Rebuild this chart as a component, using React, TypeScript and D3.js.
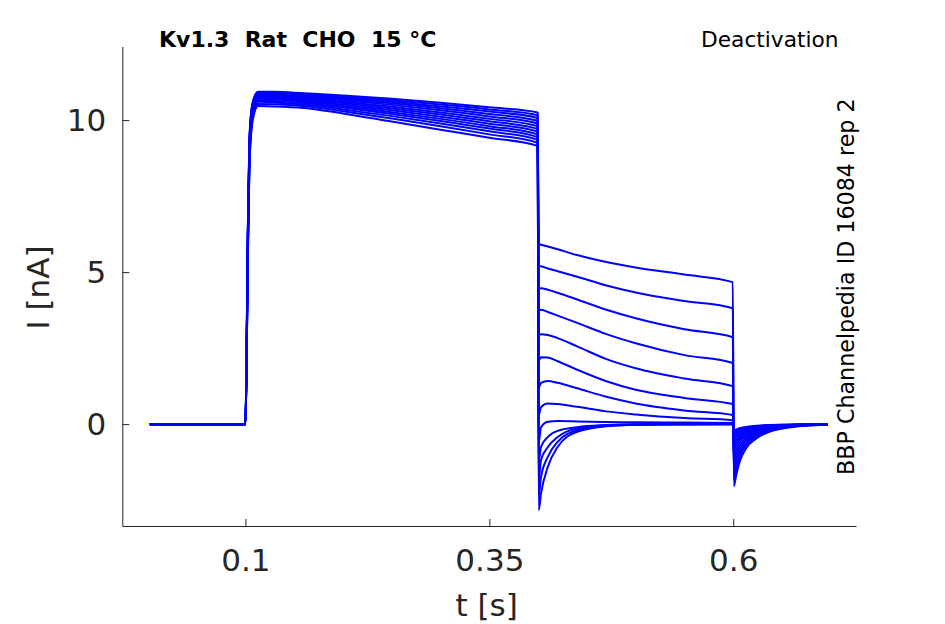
import * as d3 from "d3";
import React, { useEffect, useRef } from "react";

// time points (s) for each phase of the protocol
const holdT = [0.002, 0.1];
const actT = [0.1012, 0.1025, 0.104, 0.106, 0.109, 0.113, 0.13, 0.16, 0.2, 0.25, 0.3, 0.35, 0.3995];
const tailT = [0.4006, 0.403, 0.41, 0.42, 0.44, 0.47, 0.5, 0.55, 0.5995];
const deactT = [0.6006, 0.603, 0.6065, 0.613, 0.624, 0.637, 0.651, 0.67, 0.697];

// current (nA), one row per sweep
const actI = [
  [2.5, 6.5, 9.3, 10.3, 10.75, 10.93, 10.93, 10.88, 10.81, 10.7, 10.57, 10.42, 10.25],
  [2.5, 6.4, 9.2, 10.25, 10.72, 10.9, 10.9, 10.85, 10.77, 10.65, 10.51, 10.35, 10.16],
  [2.4, 6.4, 9.2, 10.2, 10.7, 10.88, 10.87, 10.82, 10.73, 10.6, 10.45, 10.28, 10.07],
  [2.4, 6.3, 9.1, 10.15, 10.66, 10.85, 10.84, 10.79, 10.69, 10.55, 10.39, 10.2, 9.98],
  [2.3, 6.2, 9.0, 10.1, 10.63, 10.83, 10.82, 10.76, 10.65, 10.5, 10.32, 10.12, 9.89],
  [2.3, 6.2, 9.0, 10.05, 10.6, 10.8, 10.79, 10.72, 10.6, 10.44, 10.25, 10.04, 9.8],
  [2.2, 6.1, 8.9, 10.0, 10.56, 10.78, 10.76, 10.69, 10.56, 10.38, 10.18, 9.96, 9.71],
  [2.2, 6.0, 8.8, 9.95, 10.52, 10.74, 10.72, 10.65, 10.51, 10.32, 10.11, 9.88, 9.62],
  [2.1, 5.9, 8.7, 9.9, 10.48, 10.7, 10.68, 10.61, 10.46, 10.26, 10.04, 9.8, 9.53],
  [2.1, 5.8, 8.6, 9.85, 10.43, 10.65, 10.63, 10.56, 10.41, 10.2, 9.97, 9.72, 9.44],
  [2.0, 5.7, 8.5, 9.8, 10.38, 10.6, 10.58, 10.51, 10.35, 10.13, 9.89, 9.63, 9.35],
  [2.0, 5.6, 8.4, 9.7, 10.3, 10.53, 10.52, 10.46, 10.29, 10.05, 9.8, 9.53, 9.25],
  [1.9, 5.5, 8.3, 9.6, 10.22, 10.46, 10.45, 10.4, 10.22, 9.95, 9.68, 9.42, 9.15],
];

const tailI = [
  [5.92, 5.9, 5.84, 5.75, 5.56, 5.33, 5.15, 4.92, 4.67],
  [5.2, 5.19, 5.12, 5.03, 4.85, 4.56, 4.33, 4.05, 3.81],
  [4.47, 4.47, 4.42, 4.32, 4.1, 3.76, 3.48, 3.12, 2.86],
  [3.74, 3.76, 3.69, 3.57, 3.33, 2.96, 2.66, 2.27, 2.01],
  [2.93, 2.96, 2.93, 2.83, 2.56, 2.14, 1.84, 1.5, 1.25],
  [2.1, 2.2, 2.19, 2.07, 1.79, 1.41, 1.13, 0.86, 0.66],
  [1.2, 1.36, 1.42, 1.36, 1.18, 0.9, 0.68, 0.45, 0.3],
  [0.3, 0.56, 0.68, 0.66, 0.57, 0.42, 0.32, 0.2, 0.13],
  [-0.6, -0.1, 0.08, 0.1, 0.09, 0.07, 0.06, 0.05, 0.04],
  [-1.2, -0.75, -0.42, -0.22, -0.1, -0.03, 0.0, 0.01, 0.01],
  [-1.8, -1.18, -0.75, -0.42, -0.14, -0.04, -0.01, 0.0, 0.0],
  [-2.35, -1.73, -1.07, -0.58, -0.2, -0.05, -0.02, 0.0, 0.0],
  [-2.83, -2.28, -1.4, -0.75, -0.25, -0.07, -0.02, -0.01, 0.0],
];

const deactI = [
  [-2.04, -1.68, -1.24, -0.8, -0.46, -0.25, -0.14, -0.06, -0.02],
  [-1.8, -1.48, -1.09, -0.7, -0.4, -0.22, -0.12, -0.05, -0.02],
  [-1.58, -1.3, -0.96, -0.62, -0.35, -0.19, -0.1, -0.04, -0.01],
  [-1.38, -1.13, -0.84, -0.54, -0.31, -0.17, -0.09, -0.04, -0.01],
  [-1.2, -0.98, -0.73, -0.47, -0.27, -0.15, -0.08, -0.03, -0.01],
  [-1.02, -0.84, -0.62, -0.4, -0.23, -0.12, -0.07, -0.03, -0.01],
  [-0.86, -0.7, -0.52, -0.34, -0.19, -0.1, -0.06, -0.02, -0.01],
  [-0.72, -0.59, -0.44, -0.28, -0.16, -0.09, -0.05, -0.02, 0.0],
  [-0.6, -0.49, -0.36, -0.23, -0.13, -0.07, -0.04, -0.02, 0.0],
  [-0.48, -0.39, -0.29, -0.19, -0.11, -0.06, -0.03, -0.01, 0.0],
  [-0.38, -0.31, -0.23, -0.15, -0.09, -0.05, -0.03, -0.01, 0.0],
  [-0.3, -0.25, -0.18, -0.12, -0.07, -0.04, -0.02, -0.01, 0.0],
  [-0.22, -0.18, -0.13, -0.09, -0.05, -0.03, -0.02, -0.01, 0.0],
];

const xTicks = [0.1, 0.35, 0.6];
const yTicks = [0, 5, 10];

const FONT = "'DejaVu Sans', sans-serif";
const AXIS = "#262626";

export default function App() {
  const svgRef = useRef<SVGSVGElement | null>(null);

  useEffect(() => {
    const svg = d3.select(svgRef.current);
    svg.selectAll("*").remove();

    const x = d3.scaleLinear().domain([-0.0262, 0.7258]).range([122.3, 856]);
    const y = d3.scaleLinear().domain([-3.35, 12.42]).range([526, 46.5]);

    const allT = [...holdT, ...actT, ...tailT, ...deactT];
    const sweeps = actI.map((row, i) => {
      const vals = [0, 0, ...row, ...tailI[i], ...deactI[i]];
      return allT.map((t, j) => ({ t, v: vals[j] }));
    });

    const line = d3
      .line<{ t: number; v: number }>()
      .x((d) => x(d.t))
      .y((d) => y(d.v))
      .curve(d3.curveMonotoneX);

    svg
      .append("g")
      .selectAll("path")
      .data(sweeps)
      .enter()
      .append("path")
      .attr("d", line)
      .attr("fill", "none")
      .attr("stroke", "#0000ff")
      .attr("stroke-width", 2)
      .attr("stroke-linejoin", "round");

    const xAxis = d3
      .axisBottom(x)
      .tickValues(xTicks)
      .tickFormat((d) => String(d))
      .tickSizeInner(-7)
      .tickSizeOuter(0)
      .tickPadding(23);

    const yAxis = d3
      .axisLeft(y)
      .tickValues(yTicks)
      .tickFormat((d) => String(d))
      .tickSizeInner(-7)
      .tickSizeOuter(0)
      .tickPadding(16);

    const gx = svg.append("g").attr("transform", "translate(0,526)").call(xAxis);
    const gy = svg.append("g").attr("transform", "translate(122.3,0)").call(yAxis);

    [gx, gy].forEach((g) => {
      g.select(".domain").attr("stroke", AXIS);
      g.selectAll(".tick line").attr("stroke", AXIS);
      g.selectAll(".tick text")
        .attr("fill", AXIS)
        .style("font-family", FONT)
        .style("font-size", "31px");
    });

    svg
      .append("text")
      .attr("x", 486.7)
      .attr("y", 616)
      .attr("text-anchor", "middle")
      .attr("fill", AXIS)
      .style("font-family", FONT)
      .style("font-size", "31px")
      .text("t [s]");

    svg
      .append("text")
      .attr("transform", "translate(49,287.5) rotate(-90)")
      .attr("text-anchor", "middle")
      .attr("fill", AXIS)
      .style("font-family", FONT)
      .style("font-size", "31px")
      .text("I [nA]");

    svg
      .append("text")
      .attr("x", 159)
      .attr("y", 46.7)
      .attr("fill", "#000")
      .style("font-family", FONT)
      .style("font-weight", "bold")
      .style("font-size", "22px")
      .style("white-space", "pre")
      .text("Kv1.3  Rat  CHO  15 °C");

    svg
      .append("text")
      .attr("x", 838.5)
      .attr("y", 46.7)
      .attr("text-anchor", "end")
      .attr("fill", "#000")
      .style("font-family", FONT)
      .style("font-size", "21.7px")
      .text("Deactivation");

    svg
      .append("text")
      .attr("transform", "translate(854,286.7) rotate(-90)")
      .attr("text-anchor", "middle")
      .attr("fill", "#000")
      .style("font-family", FONT)
      .style("font-size", "22.2px")
      .text("BBP Channelpedia ID 16084 rep 2");
  }, []);

  return (
    <div style={{ position: "absolute", left: 0, top: 0 }}>
      <svg ref={svgRef} width={945} height={624} style={{ display: "block", background: "#fff" }} />
    </div>
  );
}
